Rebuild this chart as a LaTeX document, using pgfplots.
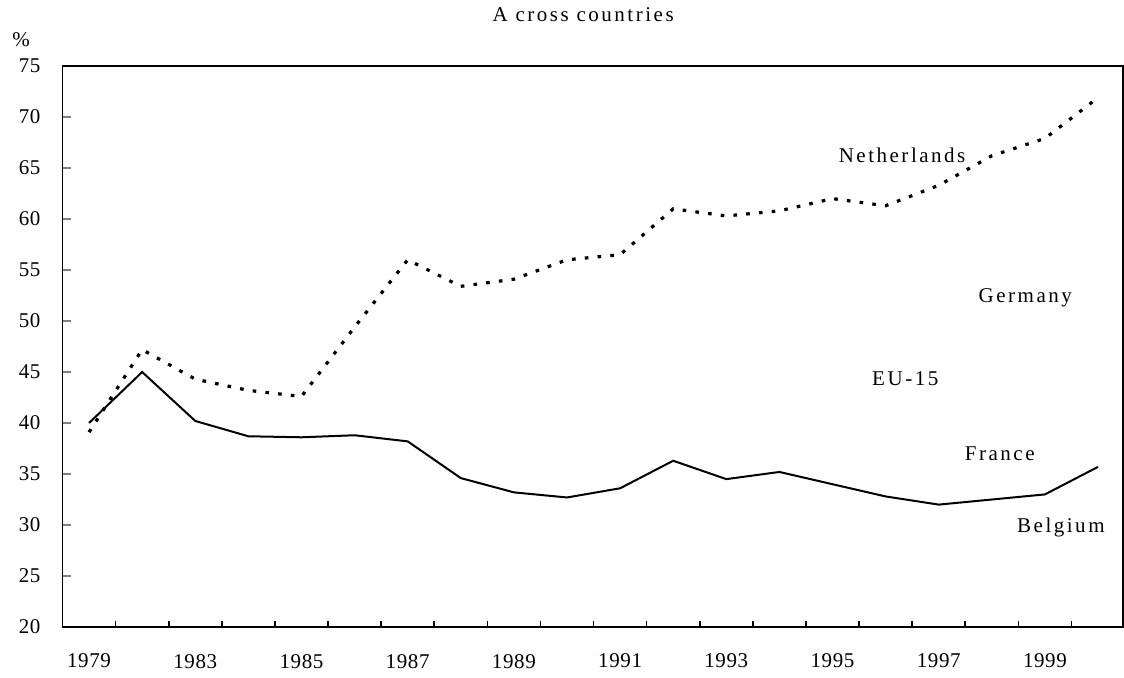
\documentclass[border=0pt]{standalone}
\usepackage{fontspec}
\setmainfont{Liberation Serif}
\newfontfamily\spaced[LetterSpace=12]{Liberation Serif}
\newfontfamily\tickfont[LetterSpace=3]{Liberation Serif}
\usepackage{pgfplots}
\pgfplotsset{compat=1.18}
\begin{document}
\begin{tikzpicture}
\useasboundingbox (-31.25pt,-25pt) rectangle (530.75pt,313.5pt);
\begin{axis}[
  scale only axis,
  width=530.25pt, height=280.5pt,
  xmin=0.5, xmax=20.47,
  ymin=20, ymax=75,
  clip=false,
  axis line style={line width=0.9pt},
  tick align=inside,
  xtick pos=bottom, ytick pos=left,
  major tick length=4pt,
  minor tick length=3pt,
  ytick={20,25,...,75},
  xtick={1,3,5,7,9,11,13,15,17,19},
  xticklabels={1979,1983,1985,1987,1989,1991,1993,1995,1997,1999},
  minor xtick={1.5,2.5,...,19.5},
  xtick style={draw=none},
  minor x tick style={draw=black, line width=0.8pt},
  y tick style={line width=0.9pt},
  /pgf/number format/assume math mode=true,
  tick label style={font=\fontsize{10.5}{12}\selectfont\tickfont},
  xticklabel style={yshift=-10pt},
  yticklabel style={xshift=-7.5pt},
]
\addplot[black, line width=1pt] coordinates {
(1,40.0) (2,45.0) (3,40.2) (4,38.7) (5,38.6) (6,38.8) (7,38.2) (8,34.6) (9,33.2) (10,32.7)
(11,33.6) (12,36.3) (13,34.5) (14,35.2) (15,34.0) (16,32.8) (17,32.0) (18,32.5) (19,33.0) (20,35.7)
};
\addplot[black, line width=1.6pt, dash pattern=on 1.8pt off 4.6pt] coordinates {
(1,39.1) (2,47.2) (3,44.3) (4,43.2) (5,42.6) (6,49.4) (7,56.0) (8,53.4) (9,54.1) (10,56.0)
(11,56.5) (12,61.0) (13,60.3) (14,60.8) (15,62.0) (16,61.3) (17,63.3) (18,66.2) (19,67.9) (20,71.9)
};
\begin{scope}[every node/.style={font=\fontsize{10.5}{12}\selectfont\spaced}]
\node at (axis cs:16.31,66.2) {Netherlands};
\node at (axis cs:18.63,52.3) {Germany};
\node at (axis cs:16.37,44.3) {EU-15};
\node at (axis cs:18.15,37.0) {France};
\node at (axis cs:19.3,29.8) {Belgium};
\node at (rel axis cs:0.491,1) [yshift=25.5pt] {A cross countries};
\node at (rel axis cs:-0.039,1) [yshift=13pt] {\%};
\end{scope}
\end{axis}
\end{tikzpicture}
\end{document}
